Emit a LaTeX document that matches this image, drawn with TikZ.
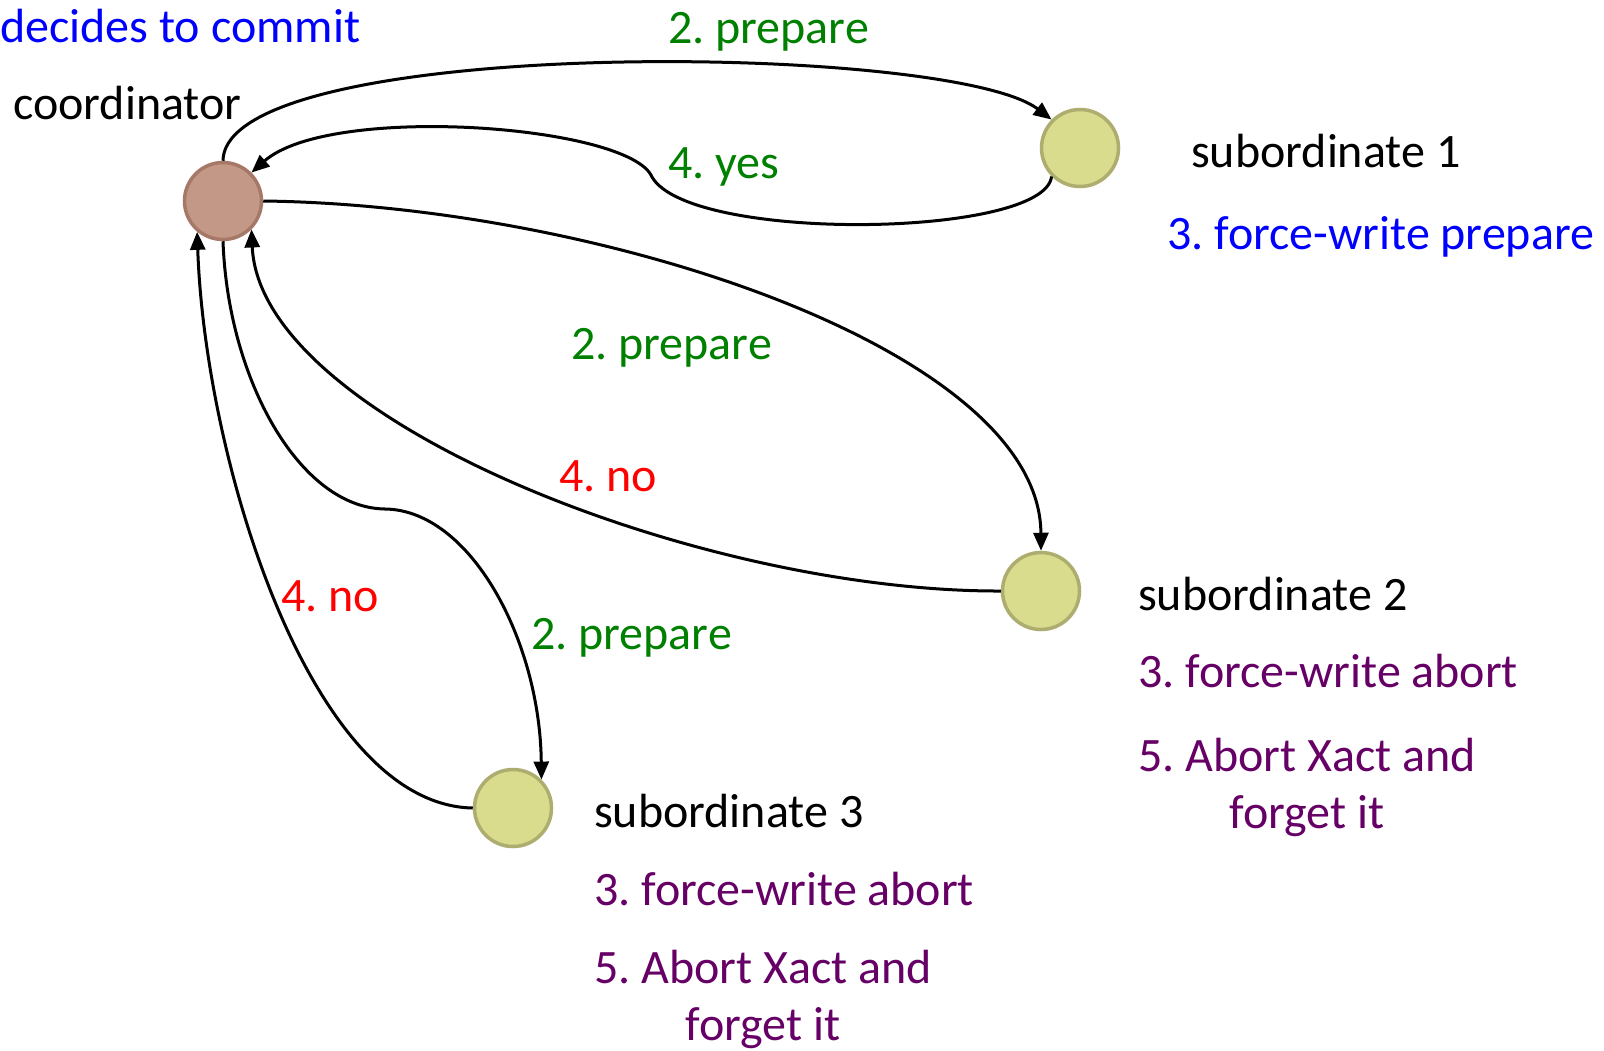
\documentclass[tikz,border=0pt]{standalone}
\usepackage{fontspec}
\setmainfont{Carlito}
\usetikzlibrary{arrows.meta}
\definecolor{cgreen}{RGB}{0,128,0}
\definecolor{cblue}{RGB}{0,0,255}
\definecolor{cred}{RGB}{255,0,0}
\definecolor{cpurple}{RGB}{102,0,102}
\definecolor{coordfill}{RGB}{196,152,135}
\definecolor{coordline}{RGB}{165,120,104}
\definecolor{subfill}{RGB}{218,220,141}
\definecolor{subline}{RGB}{172,173,110}
\frenchspacing
\begin{document}
\begin{tikzpicture}[x=1pt,y=-1pt,
  every node/.style={font=\fontsize{48}{57}\selectfont},
  lbl/.style={anchor=base west, inner sep=0pt},
  coordnode/.style={circle, fill=coordfill, draw=coordline, line width=3.5pt, minimum size=77pt, inner sep=0pt},
  subnode/.style={circle, fill=subfill, draw=subline, line width=3.5pt, minimum size=77pt, inner sep=0pt},
  edge/.style={line width=3pt, -{Triangle[length=18pt,width=15pt]}}]
\useasboundingbox (0,0) rectangle (1604,1050);
\fill[white] (0,0) rectangle (1604,1050);

\node[coordnode] (coord) at (223,201) {};
\node[subnode] (s1) at (1080,148) {};
\node[subnode] (s2) at (1041,591) {};
\node[subnode] (s3) at (513,808) {};

% texts
\node[lbl, text=cblue] (tdec) at (0,42) {decides to commit};
\node[lbl] (tcoord) at (13,119) {coordinator};
\node[lbl, text=cgreen] (tprep1) at (668,43) {2. prepare};
\node[lbl, text=cgreen] (tyes) at (668,178) {4. yes};
\node[lbl] (ts1) at (1191,167) {subordinate 1};
\node[lbl, text=cblue] (tfw1) at (1167,249) {3. force-write prepare};
\node[lbl, text=cgreen] (tprep2) at (571,359) {2. prepare};
\node[lbl, text=cred] (tno2) at (559,491) {4. no};
\node[lbl] (ts2) at (1138,610) {subordinate 2};
\node[lbl, text=cpurple] (tfw2) at (1138,687) {3. force-write abort};
\node[lbl, text=cpurple, align=center] (tab2) at (1138,828) {5. Abort Xact and\\forget it};
\node[lbl, text=cred] (tno3) at (281,611) {4. no};
\node[lbl, text=cgreen] (tprep3) at (531,649) {2. prepare};
\node[lbl] (ts3) at (594,827) {subordinate 3};
\node[lbl, text=cpurple] (tfw3) at (594,905) {3. force-write abort};
\node[lbl, text=cpurple, align=center] (tab3) at (594,1040) {5. Abort Xact and\\forget it};

% connectors
\draw[edge] (coord.90) .. controls (225,35) and (950,42) .. (s1.135);
\draw[edge] (s1.225) .. controls (1045,238) and (690,243) .. (652,177)
   .. controls (630,125) and (330,103) .. (coord.45);
\draw[edge] (coord.0) .. controls (600,205) and (1040,350) .. (s2.north);
\draw[edge] (s2.180) .. controls (700,592) and (260,420) .. (coord.-45);
\draw[edge] (coord.270) .. controls (228,380) and (300,508) .. (385,509)
   .. controls (470,510) and (540,640) .. (s3.45);
\draw[edge] (s3.180) .. controls (310,805) and (205,460) .. (coord.230);
\end{tikzpicture}
\end{document}
